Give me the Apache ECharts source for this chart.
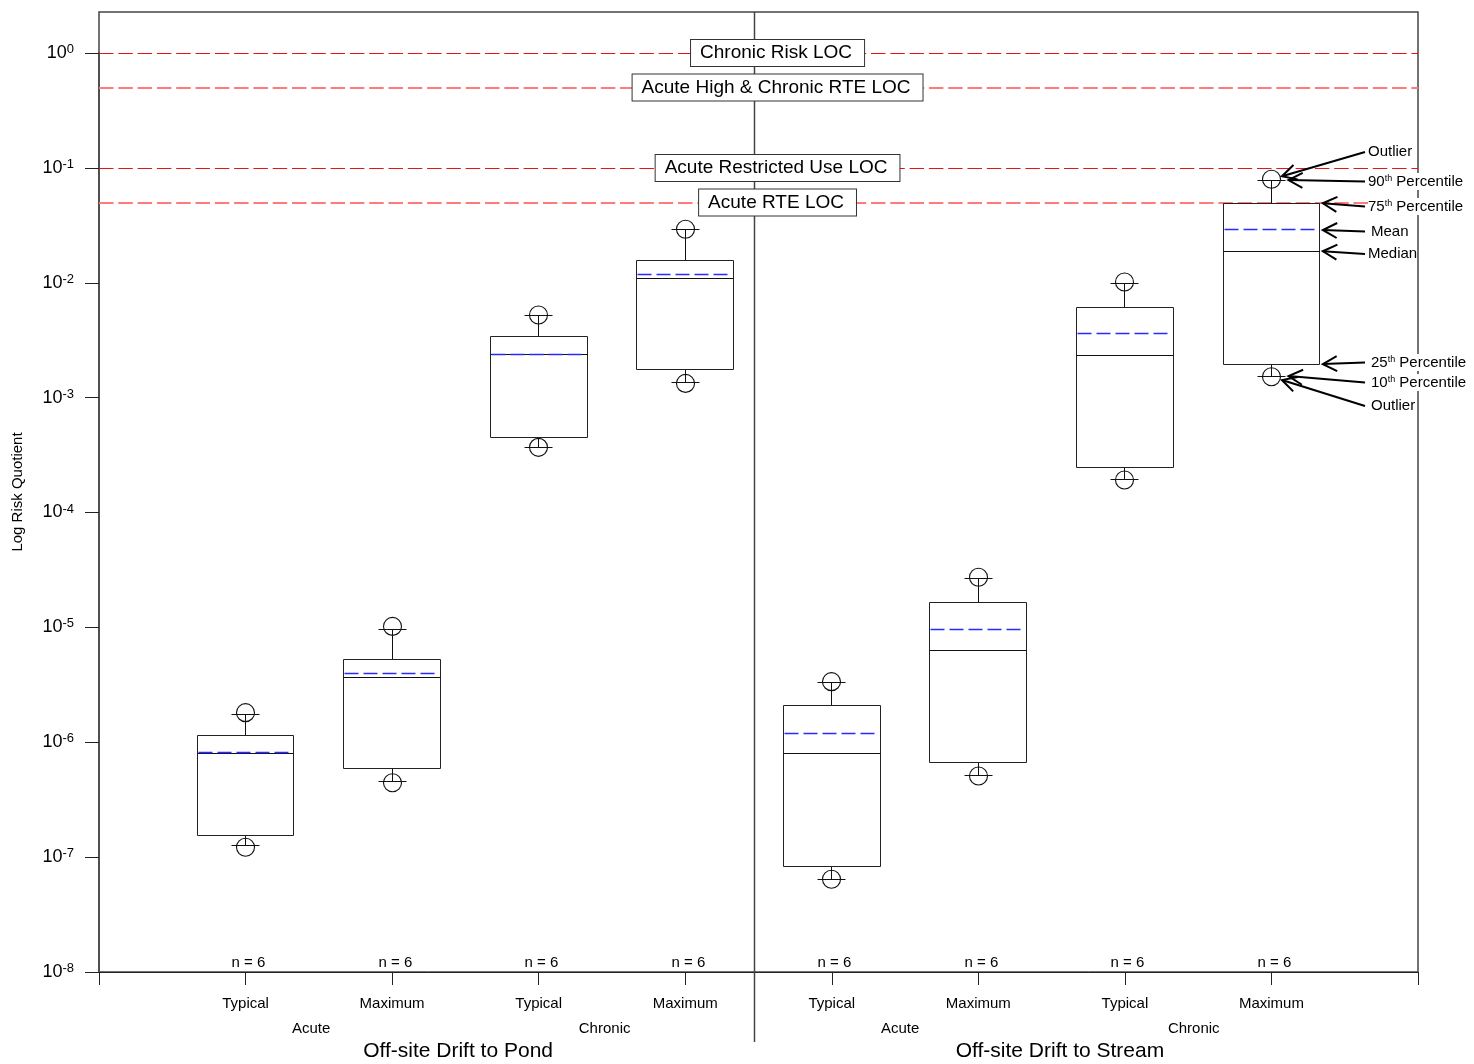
<!DOCTYPE html>
<html><head><meta charset="utf-8">
<script src="https://cdn.jsdelivr.net/npm/echarts@6/dist/echarts.min.js"></script>
<style>html,body{margin:0;padding:0;background:#fff}#c{width:1474px;height:1064px}</style>
</head><body><div id="c"></div>
<script>
// ---------------- DATA ----------------
const categories = ['Typical','Maximum','Typical','Maximum','Typical','Maximum','Typical','Maximum'];
const groupLabels = ['Acute','Chronic','Acute','Chronic'];
const scenarioLabels = ['Off-site Drift to Pond','Off-site Drift to Stream'];
const nCounts = [6,6,6,6,6,6,6,6];
const p10     = [1.25e-7, 4.53e-7, 3.69e-4, 1.35e-3, 6.45e-8, 5.13e-7, 1.92e-4, 1.54e-3];
const p25     = [1.54e-7, 5.85e-7, 4.51e-4, 1.74e-3, 8.26e-8, 6.64e-7, 2.44e-4, 1.96e-3];
const median  = [8.02e-7, 3.67e-6, 2.37e-3, 1.09e-2, 7.91e-7, 6.31e-6, 2.34e-3, 1.88e-2];
const mean    = [8.11e-7, 3.95e-6, 2.38e-3, 1.175e-2, 1.20e-6, 9.62e-6, 3.58e-3, 2.88e-2];
const p75     = [1.15e-6, 5.27e-6, 3.39e-3, 1.56e-2, 2.07e-6, 1.64e-5, 6.07e-3, 4.92e-2];
const p90     = [1.76e-6, 9.62e-6, 5.20e-3, 2.88e-2, 3.28e-6, 2.69e-5, 9.82e-3, 7.84e-2];
const outLow  = [1.22e-7, 4.44e-7, 3.69e-4, 1.33e-3, 6.41e-8, 5.08e-7, 1.92e-4, 1.52e-3];
const outHigh = [1.81e-6, 1.02e-5, 5.24e-3, 2.92e-2, 3.37e-6, 2.73e-5, 1.016e-2, 7.96e-2];
const locValues = [1, 0.5, 0.1, 0.05];
const locNames = ['Chronic Risk LOC','Acute High & Chronic RTE LOC','Acute Restricted Use LOC','Acute RTE LOC'];
const legendLabels = ['Outlier','90{s|th} Percentile','75{s|th} Percentile','Mean','Median','25{s|th} Percentile','10{s|th} Percentile','Outlier'];

// ---------------- LAYOUT / STYLE ----------------
const FONT = '"Liberation Sans", Arial, Helvetica, sans-serif';
const BOX_HALF = 0.33;
const groupPos = [1.447, 3.45, 5.466, 7.47];
const scenarioPos = [2.45, 6.557];
const locStyles = [
  {color:'#e81414', width:1, type:[14.5,4.8]},
  {color:'#ff7a7a', width:2, type:[14.5,4.8]},
  {color:'#e81414', width:1, type:[14.5,4.8]},
  {color:'#ff7a7a', width:2, type:[14.5,4.8]}
];

const data = categories.map((c, i) => [i + 1, p10[i], p25[i], median[i], mean[i], p75[i], p90[i], outLow[i], outHigh[i], nCounts[i]]);
const crisp = v => Math.round(v - 0.5) + 0.5;

function renderItem(params, api) {
  const x = api.value(0);
  const P = v => api.coord([x, v]);
  const cxr = P(api.value(3))[0];
  const half = api.coord([x + BOX_HALF, api.value(3)])[0] - cxr;
  const cx = crisp(cxr);
  const L = crisp(cxr - half), R = crisp(cxr + half);
  const y10 = crisp(P(api.value(1))[1]), y25 = crisp(P(api.value(2))[1]), yMed = crisp(P(api.value(3))[1]),
        yMean = crisp(P(api.value(4))[1]), y75 = crisp(P(api.value(5))[1]), y90 = crisp(P(api.value(6))[1]),
        yLo = P(api.value(7))[1], yHi = P(api.value(8))[1];
  const yBase = api.coord([x, 1e-8])[1];
  const capHalf = 14, r = 9;
  const st = {stroke:'#111', lineWidth:1, fill:null};
  return {type:'group', children:[
    {type:'line', shape:{x1:cx, y1:y75, x2:cx, y2:y90}, style:st},
    {type:'line', shape:{x1:cx, y1:y25, x2:cx, y2:y10}, style:st},
    {type:'line', shape:{x1:cx-capHalf, y1:y90, x2:cx+capHalf, y2:y90}, style:st},
    {type:'line', shape:{x1:cx-capHalf, y1:y10, x2:cx+capHalf, y2:y10}, style:st},
    {type:'circle', shape:{cx:cx, cy:yHi, r:r}, style:{stroke:'#111', fill:'none', lineWidth:1.1}},
    {type:'circle', shape:{cx:cx, cy:yLo, r:r}, style:{stroke:'#111', fill:'none', lineWidth:1.1}},
    {type:'rect', shape:{x:L, y:y75, width:R-L, height:y25-y75}, style:{stroke:'#222', fill:'none', lineWidth:1}},
    {type:'line', shape:{x1:L, y1:yMed, x2:R, y2:yMed}, style:{stroke:'#111', lineWidth:1}},
    {type:'line', shape:{x1:L+1, y1:yMean, x2:R-1, y2:yMean}, style:{stroke:'#2a2aff', lineWidth:1.7, lineDash:[14,5]}},
    {type:'text', style:{text:'n = ' + api.value(9), x:cx+3, y:yBase-9, align:'center', verticalAlign:'middle', font:'15px ' + FONT, fill:'#000'}}
  ]};
}

const chart = echarts.init(document.getElementById('c'), null, {renderer:'canvas'});

const option = {
  animation: false,
  backgroundColor: '#fff',
  textStyle: {fontFamily: FONT},
  grid: [
    {left:99, right:56, top:53, bottom:92, show:false},
    {left:99, right:56, top:12, bottom:92, show:true, borderColor:'#444', borderWidth:1.5, backgroundColor:'transparent'},
    {left:99, right:56, top:12, bottom:92, show:false}
  ],
  xAxis: [
    {gridIndex:0, type:'value', min:0, max:9, interval:1, position:'bottom',
     axisLine:{show:true, onZero:false, lineStyle:{color:'#222', width:1}},
     axisTick:{show:true, length:13, lineStyle:{color:'#222'}},
     axisLabel:{margin:24, fontSize:15, color:'#000',
       formatter: v => (Number.isInteger(v) && v >= 1 && v <= categories.length) ? categories[v-1] : ''},
     splitLine:{show:false}},
    {gridIndex:1, type:'value', min:0, max:9, position:'bottom',
     axisLine:{show:false, onZero:false}, axisTick:{show:false}, splitLine:{show:false},
     axisLabel:{customValues: groupPos, margin:49, fontSize:15, color:'#000',
       formatter: v => { const i = groupPos.findIndex(p => Math.abs(p - v) < 1e-6); return i >= 0 ? groupLabels[i] : ''; }}},
    {gridIndex:2, type:'value', min:0, max:9, position:'bottom',
     axisLine:{show:false, onZero:false}, axisTick:{show:false}, splitLine:{show:false},
     axisLabel:{customValues: scenarioPos, margin:69, fontSize:21, color:'#000',
       formatter: v => { const i = scenarioPos.findIndex(p => Math.abs(p - v) < 1e-6); return i >= 0 ? scenarioLabels[i] : ''; }}}
  ],
  yAxis: [
    {gridIndex:0, type:'log', logBase:10, min:1e-8, max:1, splitNumber:8,
     axisLine:{show:true, onZero:false, lineStyle:{color:'#444', width:1.5}},
     axisTick:{show:true, length:14, lineStyle:{color:'#222'}},
     axisLabel:{margin:25, color:'#000',
       formatter: v => '{b|10}{s|' + Math.round(Math.log10(v)) + '}',
       rich:{b:{fontSize:18, lineHeight:20, color:'#000'}, s:{fontSize:13, lineHeight:15, verticalAlign:'top', color:'#000'}}},
     splitLine:{show:false}},
    {gridIndex:1, type:'value', min:0, max:1,
     axisLine:{show:false}, axisTick:{show:false}, axisLabel:{show:false}, splitLine:{show:false},
     name:'Log Risk Quotient', nameLocation:'middle', nameGap:74,
     nameTextStyle:{fontSize:15, color:'#000'}},
    {gridIndex:2, type:'value', min:0, max:1, show:false}
  ],
  series: [{
    type:'custom', xAxisIndex:0, yAxisIndex:0, z:5,
    renderItem: renderItem,
    data: data,
    encode: {x:0, y:[1,2,3,4,5,6,7,8]},
    markLine: {
      silent:true, symbol:['none','none'], label:{show:false}, z:3,
      data: locValues.map((v, i) => ({yAxis:v, lineStyle:locStyles[i]}))
    },
    markPoint: {
      silent:true, symbol:'rect', symbolSize:1, itemStyle:{color:'rgba(0,0,0,0)'}, z:6,
      label:{show:true, position:'inside', color:'#000', fontSize:19, lineHeight:20,
        backgroundColor:'#fff', borderColor:'#333', borderWidth:1, padding:[3,12,3,9],
        formatter: p => p.name},
      data: locNames.map((n, i) => ({name:n, coord:[4.63, locValues[i]]}))
    }
  }]
};

chart.setOption(option);

// ---------- decorations: divider + legend annotations computed through axes ----------
const toPx = (x, y) => chart.convertToPixel({xAxisIndex:0, yAxisIndex:0}, [x, y]);
const divX = crisp(toPx(4.476, 1)[0]);
const frameTop = chart.convertToPixel({yAxisIndex:1}, 1);
const baseY = toPx(0, 1e-8)[1];

const k = categories.length - 1, bx = k + 1;
const cx = toPx(bx, median[k])[0];
const right = toPx(bx + BOX_HALF, median[k])[0];
const yv = v => toPx(bx, v)[1];
const ann = [
  {ty:152,   tx:1368, kind:'circle', v:outHigh[k]},
  {ty:181.5, tx:1368, kind:'cap',    v:p90[k], bg:true},
  {ty:206.5, tx:1368, kind:'box',    v:p75[k], bg:true},
  {ty:231.5, tx:1371, kind:'box',    v:mean[k]},
  {ty:254,   tx:1368, kind:'box',    v:median[k]},
  {ty:362.5, tx:1371, kind:'box',    v:p25[k], bg:true},
  {ty:382.5, tx:1371, kind:'cap',    v:p10[k], bg:true},
  {ty:406,   tx:1371, kind:'circle', v:outLow[k]}
];
const g = [];
g.push({type:'line', z:1, shape:{x1:divX, y1:frameTop, x2:divX, y2:baseY+70}, style:{stroke:'#444', lineWidth:1.5}});
ann.forEach((a, i) => {
  const sx = 1365, sy = a.ty;
  let tx, ty;
  if (a.kind === 'circle') {
    const cy = yv(a.v);
    const dx = sx - cx, dy = sy - cy, L = Math.hypot(dx, dy);
    tx = cx + dx / L * 11; ty = cy + dy / L * 11;
  } else if (a.kind === 'cap') {
    tx = cx + 17; ty = yv(a.v);
  } else {
    tx = right + 3; ty = yv(a.v);
  }
  const dx = sx - tx, dy = sy - ty, L = Math.hypot(dx, dy);
  const ux = dx / L, uy = dy / L, ang = 28 * Math.PI / 180, hl = 16;
  const h1 = [tx + hl * (ux * Math.cos(ang) - uy * Math.sin(ang)), ty + hl * (ux * Math.sin(ang) + uy * Math.cos(ang))];
  const h2 = [tx + hl * (ux * Math.cos(-ang) - uy * Math.sin(-ang)), ty + hl * (ux * Math.sin(-ang) + uy * Math.cos(-ang))];
  const ls = {stroke:'#000', lineWidth:2};
  g.push({type:'line', z:100, shape:{x1:sx, y1:sy, x2:tx, y2:ty}, style:ls});
  g.push({type:'polyline', z:100, shape:{points:[h1, [tx, ty], h2]}, style:Object.assign({fill:null}, ls)});
  g.push({type:'text', z:101, style:{
    text: legendLabels[i], x:a.tx, y:a.ty, align:'left', verticalAlign:'middle',
    font:'15px ' + FONT, fill:'#000',
    backgroundColor: a.bg ? '#fff' : null, padding: a.bg ? [1,1,1,0] : 0,
    rich:{s:{fontSize:9, lineHeight:10, verticalAlign:'top', fill:'#000', font:'9px ' + FONT}}
  }});
});
chart.setOption({graphic: g});
</script></body></html>
